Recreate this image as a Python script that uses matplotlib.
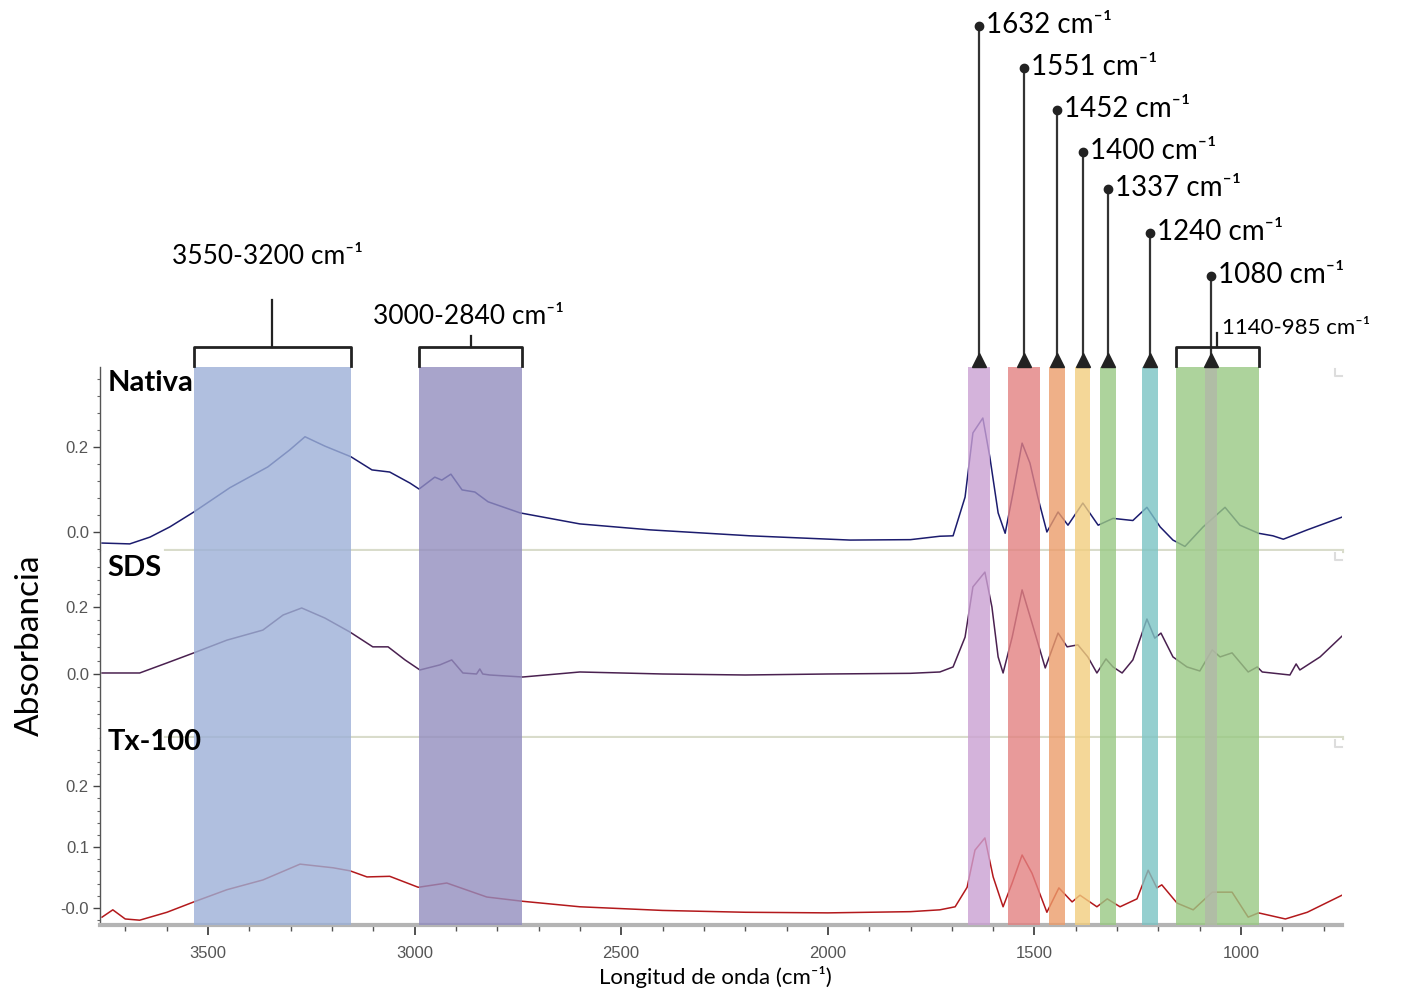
import matplotlib.pyplot as plt
from matplotlib.transforms import blended_transform_factory

# spectra: wavenumber (cm-1) and absorbance
nativa_wn = [3756, 3689, 3640, 3592, 3534, 3447, 3355, 3302, 3265, 3217, 3154, 3103, 3060, 3011,
             2989, 2951, 2934, 2912, 2885, 2854, 2822, 2745, 2600, 2430, 2188, 1946, 1800, 1729,
             1697, 1668, 1649, 1625, 1608, 1588, 1571, 1552, 1530, 1511, 1492, 1470, 1443, 1419,
             1383, 1346, 1310, 1262, 1228, 1196, 1165, 1136, 1092, 1039, 1003, 958, 923, 898, 840, 756]
nativa_abs = [-0.026, -0.028, -0.012, 0.012, 0.047, 0.104, 0.153, 0.193, 0.224, 0.202, 0.177, 0.146,
              0.141, 0.115, 0.101, 0.129, 0.122, 0.136, 0.099, 0.094, 0.071, 0.045, 0.019, 0.005,
              -0.009, -0.019, -0.018, -0.010, -0.009, 0.082, 0.233, 0.268, 0.176, 0.045, -0.003,
              0.092, 0.209, 0.162, 0.082, 0.000, 0.047, 0.016, 0.068, 0.016, 0.032, 0.027, 0.058,
              0.012, -0.019, -0.034, 0.012, 0.058, 0.016, -0.003, -0.009, -0.017, 0.005, 0.035]

sds_wn = [3756, 3665, 3599, 3534, 3454, 3367, 3318, 3273, 3217, 3156, 3101, 3064, 3023, 2987,
          2939, 2910, 2883, 2850, 2842, 2835, 2818, 2738, 2600, 2400, 2200, 2000, 1800, 1729,
          1697, 1668, 1649, 1620, 1603, 1588, 1576, 1554, 1530, 1506, 1474, 1443, 1421, 1395,
          1371, 1349, 1327, 1310, 1288, 1262, 1228, 1209, 1194, 1165, 1131, 1100, 1070, 1051,
          1022, 983, 961, 949, 882, 867, 858, 809, 756]
sds_abs = [0.003, 0.003, 0.033, 0.063, 0.101, 0.131, 0.176, 0.197, 0.167, 0.125, 0.081, 0.081,
           0.042, 0.012, 0.027, 0.042, 0.003, 0.000, 0.015, 0.000, -0.003, -0.009, 0.006, 0.000,
           -0.003, 0.000, 0.002, 0.006, 0.021, 0.110, 0.260, 0.304, 0.200, 0.051, 0.003, 0.110,
           0.251, 0.152, 0.018, 0.122, 0.081, 0.087, 0.051, 0.003, 0.045, 0.021, 0.003, 0.042,
           0.164, 0.107, 0.122, 0.051, 0.021, 0.009, 0.072, 0.051, 0.063, 0.006, 0.021, 0.006,
           -0.003, 0.030, 0.012, 0.051, 0.113]

tx_wn = [3756, 3730, 3700, 3665, 3599, 3534, 3454, 3367, 3277, 3197, 3156, 3115, 3060, 2991,
         2922, 2825, 2738, 2600, 2400, 2200, 2000, 1800, 1729, 1692, 1663, 1644, 1620, 1600,
         1576, 1554, 1530, 1506, 1470, 1441, 1409, 1390, 1349, 1324, 1293, 1252, 1225, 1204,
         1192, 1155, 1116, 1070, 1022, 983, 958, 893, 840, 756]
tx_abs = [-0.015, -0.003, -0.018, -0.020, -0.007, 0.010, 0.030, 0.046, 0.072, 0.066, 0.061, 0.051,
          0.052, 0.034, 0.041, 0.018, 0.011, 0.002, -0.004, -0.007, -0.008, -0.006, -0.003, 0.002,
          0.034, 0.095, 0.115, 0.051, 0.002, 0.041, 0.087, 0.057, -0.007, 0.033, 0.010, 0.021,
          0.002, 0.015, 0.002, 0.015, 0.062, 0.033, 0.038, 0.008, -0.003, 0.026, 0.026, -0.015,
          -0.008, -0.018, -0.007, 0.021]

panel_names = ["Nativa", "SDS", "Tx-100"]

# highlighted regions (cm-1)
band_hi = [3534, 2989, 1661, 1564, 1465, 1402, 1341, 1240, 1157, 1087]
band_lo = [3154, 2740, 1607, 1486, 1426, 1365, 1302, 1201, 957, 1058]
band_colors = ["#9cb0d7", "#928dbf", "#caa0d3", "#e38181", "#ec9c6a",
               "#f2ce7e", "#99c983", "#7bc3c3", "#99c983", "#b2b8a8"]

peak_labels = ["1632", "1551", "1452", "1400", "1337", "1240", "1080"]
peak_pos = [1634, 1525, 1446, 1383, 1321, 1220, 1072]

range_labels = ["3550-3200", "3000-2840", "1140-985"]
range_hi = [3534, 2989, 1157]
range_lo = [3154, 2740, 957]

W, H = 1408, 993
fig = plt.figure(figsize=(W / 100, H / 100), dpi=100)


def fy(px):
    return 1 - px / H


ann_font = ["Lato", "DejaVu Sans"]
tick_font = ["Liberation Sans Narrow", "Liberation Sans", "DejaVu Sans"]

left = 100 / W
width = (1342 - 100) / W
edges = [367, 551, 738, 925]
ylims = [(-0.0447, 0.388), (-0.191, 0.367), (-0.0279, 0.279)]
spectra = [(nativa_wn, nativa_abs, "#1c1c6e"),
           (sds_wn, sds_abs, "#4a2150"),
           (tx_wn, tx_abs, "#b3191c")]
label_y = [0.985, 0.98, 1.05]

axes = []
for i in range(3):
    ax = fig.add_axes([left, fy(edges[i + 1]), width, (edges[i + 1] - edges[i]) / H])
    axes.append(ax)
    wn, ab, col = spectra[i]
    ax.plot(wn, ab, color=col, lw=1.1, zorder=2)
    for lo, hi, c in zip(band_lo, band_hi, band_colors):
        ax.axvspan(lo, hi, color=c, alpha=0.8, lw=0, zorder=3)
    ax.set_xlim(3761, 756)
    ax.set_ylim(*ylims[i])
    for s in ["top", "right"]:
        ax.spines[s].set_visible(False)
    ax.spines["left"].set_color("#555555")
    ax.spines["left"].set_linewidth(1.0)
    ax.tick_params(axis="y", direction="out", length=5, width=1, color="#444444",
                   labelcolor="#555555", labelsize=12, pad=3)
    ax.tick_params(axis="y", which="minor", length=2.5, width=0.8, color="#666666")
    ax.text(0.006, label_y[i], panel_names[i], transform=ax.transAxes, fontsize=21,
            fontweight="bold", family=ann_font, va="top", ha="left", zorder=8)
    # corner mark at right
    ax.plot([0.994, 0.994, 1.0], [0.99, 0.95, 0.95], transform=ax.transAxes,
            color="#dddddd", lw=1.5, clip_on=False, zorder=1)
    if i < 2:
        ax.spines["bottom"].set_visible(False)
        ax.set_xticks([])
        ax.plot([0.053, 1.0], [0.0, 0.0], transform=ax.transAxes, color="#d9dccb",
                lw=3, clip_on=False, zorder=1)

axes[0].set_yticks([0.0, 0.2], ["0.0", "0.2"])
axes[0].set_yticks([-0.04 + 0.04 * k for k in range(11)], minor=True)
axes[1].set_yticks([0.0, 0.2], ["0.0", "0.2"])
axes[1].set_yticks([-0.16 + 0.04 * k for k in range(13)], minor=True)
axes[2].set_yticks([0.0, 0.1, 0.2], ["-0.0", "0.1", "0.2"])
axes[2].set_yticks([-0.02 + 0.02 * k for k in range(15)], minor=True)
for ax in axes:
    for t in ax.get_yticklabels():
        t.set_family(tick_font)

axb = axes[2]
axb.spines["bottom"].set_color("#b4b4b4")
axb.spines["bottom"].set_linewidth(3)
axb.set_xticks([3500, 3000, 2500, 2000, 1500, 1000])
axb.set_xticks(range(3700, 756, -100), minor=True)
axb.tick_params(axis="x", direction="out", length=7, width=1.2, color="#333333",
                labelcolor="#555555", labelsize=12, pad=8)
axb.tick_params(axis="x", which="minor", length=4, width=1, color="#555555")
for t in axb.get_xticklabels():
    t.set_family(tick_font)

fig.text(715 / W, fy(977), "Longitud de onda (cm\u207b\u00b9)", ha="center", va="center",
         fontsize=16, family=ann_font)
fig.text(30 / W, fy(645), "Absorbancia", rotation=90, ha="center", va="center",
         fontsize=24, family=ann_font)

# annotations above the plot
top = axes[0]
tr = blended_transform_factory(top.transData, fig.transFigure)
ann_y = [26, 68, 110, 152, 189, 233, 276]
for lab, pos, ypx in zip(peak_labels, peak_pos, ann_y):
    top.plot([pos, pos], [fy(ypx), fy(362)], color="#333333", lw=1.6, transform=tr,
             clip_on=False, zorder=6)
    top.plot([pos], [fy(ypx)], marker="o", ms=6, color="#222222", transform=tr,
             clip_on=False, zorder=7)
    top.plot([pos], [fy(360)], marker="^", ms=10, color="#222222", transform=tr,
             clip_on=False, zorder=7)
    top.annotate(lab + " cm\u207b\u00b9", xy=(pos, fy(ypx)), xycoords=tr, xytext=(5, 1),
                 textcoords="offset points", ha="left", va="center", fontsize=20,
                 family=ann_font, annotation_clip=False)

bracket_stem = [300, 336, 333]
text_y = [257, 317, 328]
text_x = [3587, 3101, 1046]
text_size = [19, 19, 16]
for k in range(3):
    hi, lo = range_hi[k], range_lo[k]
    mid = (hi + lo) / 2
    top.plot([hi, hi, lo, lo], [fy(366), fy(347), fy(347), fy(366)], color="#222222",
             lw=2, transform=tr, clip_on=False, zorder=6)
    if k == 2:
        stem_x = 1058
    else:
        stem_x = mid
    top.plot([stem_x, stem_x], [fy(347), fy(bracket_stem[k])], color="#222222", lw=1.6,
             transform=tr, clip_on=False, zorder=6)
    top.text(text_x[k], fy(text_y[k]), range_labels[k] + " cm\u207b\u00b9", transform=tr,
             ha="left", va="center", fontsize=text_size[k], family=ann_font)

fig.savefig("out.png", dpi=100)
